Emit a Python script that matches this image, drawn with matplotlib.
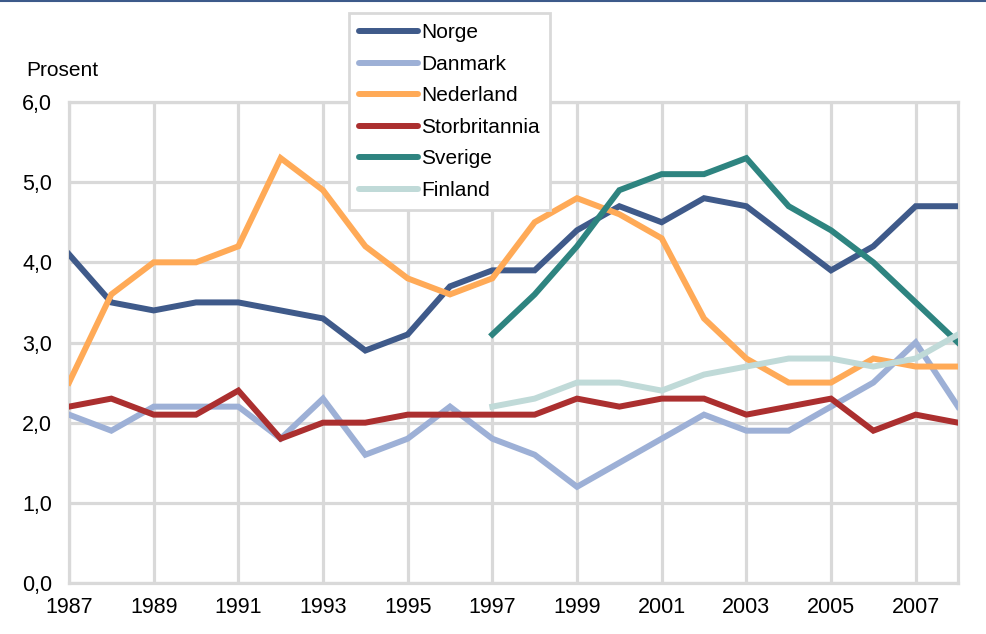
import numpy as np
import matplotlib
matplotlib.use("Agg")
import matplotlib.pyplot as plt
from matplotlib.lines import Line2D

plt.rcParams['font.family'] = ['Liberation Sans', 'DejaVu Sans']

years = list(range(1987, 2009))
years_late = list(range(1997, 2009))

norge = [4.1, 3.5, 3.4, 3.5, 3.5, 3.4, 3.3, 2.9, 3.1, 3.7, 3.9,
         3.9, 4.4, 4.7, 4.5, 4.8, 4.7, 4.3, 3.9, 4.2, 4.7, 4.7]
danmark = [2.1, 1.9, 2.2, 2.2, 2.2, 1.8, 2.3, 1.6, 1.8, 2.2, 1.8,
           1.6, 1.2, 1.5, 1.8, 2.1, 1.9, 1.9, 2.2, 2.5, 3.0, 2.2]
nederland = [2.5, 3.6, 4.0, 4.0, 4.2, 5.3, 4.9, 4.2, 3.8, 3.6, 3.8,
             4.5, 4.8, 4.6, 4.3, 3.3, 2.8, 2.5, 2.5, 2.8, 2.7, 2.7]
storbritannia = [2.2, 2.3, 2.1, 2.1, 2.4, 1.8, 2.0, 2.0, 2.1, 2.1, 2.1,
                 2.1, 2.3, 2.2, 2.3, 2.3, 2.1, 2.2, 2.3, 1.9, 2.1, 2.0]
sverige = [3.1, 3.6, 4.2, 4.9, 5.1, 5.1, 5.3, 4.7, 4.4, 4.0, 3.5, 3.0]
finland = [2.2, 2.3, 2.5, 2.5, 2.4, 2.6, 2.7, 2.8, 2.8, 2.7, 2.8, 3.1]

x_ticks = list(range(1987, 2008, 2))
y_ticks = [0, 1, 2, 3, 4, 5, 6]
y_labels = ["0,0", "1,0", "2,0", "3,0", "4,0", "5,0", "6,0"]

grid_col = '#d9d9d9'

fig = plt.figure(figsize=(9.87, 6.34), dpi=100)
ax = fig.add_axes([69 / 987, 1 - 583 / 634, (958 - 69) / 987, (583 - 102) / 634])

lw = 4.3
series = [
    (years, norge, 'Norge', '#3f5a8a'),
    (years, danmark, 'Danmark', '#9db0d6'),
    (years, nederland, 'Nederland', '#ffaa57'),
    (years, storbritannia, 'Storbritannia', '#ab2f2f'),
    (years_late, sverige, 'Sverige', '#2e8480'),
    (years_late, finland, 'Finland', '#c0dad8'),
]
for xs, ys, name, col in series:
    ax.plot(xs, ys, color=col, lw=lw, label=name, solid_joinstyle='miter', zorder=3)

ax.set_xlim(1987, 2008)
ax.set_ylim(0, 6)
ax.set_xticks(x_ticks)
ax.set_xticklabels([str(y) for y in x_ticks], fontsize=15.5)
ax.set_yticks(y_ticks)
ax.set_yticklabels(y_labels, fontsize=15.5)
ax.tick_params(axis='x', length=0, pad=10)
ax.tick_params(axis='y', length=0, pad=12)
ax.grid(True, color=grid_col, lw=2.3, zorder=0)
ax.set_axisbelow(True)
for s in ax.spines.values():
    s.set_color(grid_col)
    s.set_linewidth(2.3)

fig.text(26 / 987, 1 - 70 / 634, 'Prosent', fontsize=15, va='center', ha='left')

# blue rule along the top
fig.add_artist(Line2D([0, 1], [1 - 1 / 634, 1 - 1 / 634], color='#3d5a8a', lw=1.5))

handles = [Line2D([0], [0], color=c, lw=lw, solid_capstyle='round') for _, _, _, c in series]
leg = fig.legend(handles, [n for _, _, n, _ in series], loc='upper left',
                 bbox_to_anchor=(349 / 987, 1 - 13 / 634), fontsize=15,
                 handlelength=2.8, handletextpad=0.15, labelspacing=0.6,
                 borderpad=0.5, borderaxespad=0, fancybox=False, framealpha=1)
leg.get_frame().set_edgecolor(grid_col)
leg.get_frame().set_linewidth(2)

fig.savefig('out.png', dpi=100)
